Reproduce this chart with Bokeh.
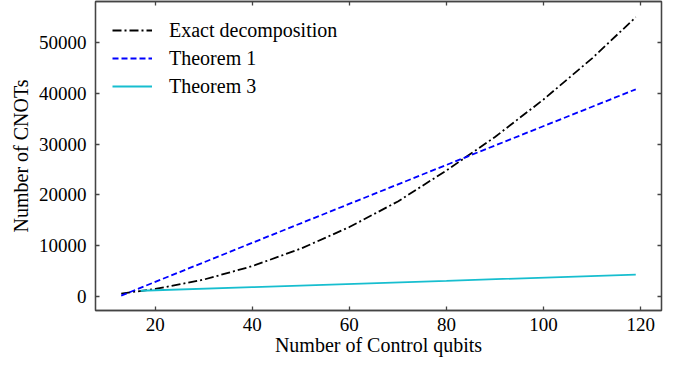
from bokeh.plotting import figure
from bokeh.models import Range1d, LinearAxis, Legend, LegendItem, FixedTicker, CustomJSTickFormatter
from bokeh.embed import file_html
from bokeh.resources import INLINE

# Data
exact_x = [13, 20, 30, 40, 50, 60, 70, 80, 90, 100, 110, 119]
exact_y = [550, 1450, 3300, 5950, 9400, 13650, 18700, 24800, 31400, 38800, 46900, 55000]
thm1_x = [13, 40, 80, 119]
thm1_y = [150, 10550, 25900, 40800]
thm3_x = [17, 40, 80, 119]
thm3_y = [1100, 1820, 3060, 4290]
x_ticks = [20, 40, 60, 80, 100, 120]
y_ticks = [0, 10000, 20000, 30000, 40000, 50000]

FONT = "Liberation Serif"
FRAME = "#444444"

p = figure(width=666, height=358, output_backend="svg", toolbar_location=None,
           x_range=Range1d(7.7, 124.3), y_range=Range1d(-2790, 58100),
           min_border_left=95, min_border_right=5, min_border_top=1, min_border_bottom=48,
           x_axis_label="Number of Control qubits", y_axis_label="Number of CNOTs")

p.xgrid.grid_line_color = None
p.ygrid.grid_line_color = None
p.outline_line_color = FRAME
p.outline_line_width = 1.3
p.background_fill_color = "white"
p.border_fill_color = "white"

p.xaxis.ticker = FixedTicker(ticks=x_ticks)
p.yaxis.ticker = FixedTicker(ticks=y_ticks)
p.yaxis.formatter.use_scientific = False

for ax in [p.xaxis[0], p.yaxis[0]]:
    ax.major_label_text_font = FONT
    ax.major_label_text_font_size = "19px"
    ax.major_label_text_color = "black"
    ax.axis_label_text_font = FONT
    ax.axis_label_text_font_size = "20px"
    ax.axis_label_text_font_style = "normal"
    ax.axis_label_text_color = "black"
    ax.major_tick_in = 4
    ax.major_tick_out = 0
    ax.minor_tick_line_color = None
    ax.axis_line_color = FRAME
    ax.axis_line_width = 1.3
    ax.major_tick_line_color = FRAME
    ax.major_tick_line_width = 1.3
p.xaxis.major_label_standoff = 7
p.xaxis.axis_label_standoff = 0
p.yaxis.major_label_standoff = 9
p.yaxis.axis_label_standoff = 4

# mirrored ticks on top and right (no labels)
top = LinearAxis(ticker=FixedTicker(ticks=x_ticks), formatter=CustomJSTickFormatter(code="return ''"),
                 major_label_standoff=0, major_tick_in=4, major_tick_out=0,
                 minor_tick_line_color=None, axis_line_color=FRAME, axis_line_width=1.3,
                 major_tick_line_color=FRAME, major_tick_line_width=1.3)
right = LinearAxis(ticker=FixedTicker(ticks=y_ticks), formatter=CustomJSTickFormatter(code="return ''"),
                   major_label_standoff=0, major_tick_in=4, major_tick_out=0,
                   minor_tick_line_color=None, axis_line_color=FRAME, axis_line_width=1.3,
                   major_tick_line_color=FRAME, major_tick_line_width=1.3)
p.add_layout(top, "above")
p.add_layout(right, "right")

r1 = p.line(exact_x, exact_y, line_color="black", line_width=1.8, line_dash="9 3 2 3")
r2 = p.line(thm1_x, thm1_y, line_color="#0000ff", line_width=1.8, line_dash="6 3")
r3 = p.line(thm3_x, thm3_y, line_color="#17becf", line_width=1.8)

legend = Legend(items=[LegendItem(label="Exact decomposition", renderers=[r1]),
                       LegendItem(label="Theorem 1", renderers=[r2]),
                       LegendItem(label="Theorem 3", renderers=[r3])],
                location="top_left", margin=0, padding=17,
                glyph_width=40, glyph_height=24, label_height=24, spacing=4,
                label_standoff=17, label_text_font=FONT, label_text_font_size="20px",
                label_text_color="black", border_line_alpha=0, background_fill_alpha=0)
p.add_layout(legend, "center")

open("out.html", "w").write(file_html(p, INLINE))
